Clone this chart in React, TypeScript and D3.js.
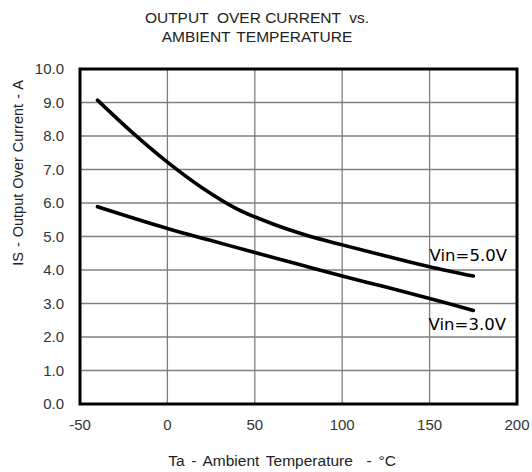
import * as d3 from 'd3';

// Temperature (°C) and output over current (A)
const tempVin5 = [-40, -20, 0, 20, 40, 60, 80, 100, 125, 150, 175];
const currentVin5 = [9.07, 8.1, 7.22, 6.45, 5.82, 5.38, 5.03, 4.75, 4.42, 4.1, 3.82];

const tempVin3 = [-40, 0, 25, 50, 75, 100, 125, 150, 175];
const currentVin3 = [5.89, 5.24, 4.88, 4.52, 4.17, 3.82, 3.49, 3.15, 2.79];

const xTicks = [-50, 0, 50, 100, 150, 200];
const yTicks = [0, 1, 2, 3, 4, 5, 6, 7, 8, 9, 10];

const seriesLabels = ['Vin=5.0V', 'Vin=3.0V'];

const width = 532;
const height = 472;
const margin = { top: 69, right: 15, bottom: 68, left: 80 };

export default function App() {
  const innerWidth = width - margin.left - margin.right;
  const innerHeight = height - margin.top - margin.bottom;

  const x = d3.scaleLinear().domain([-50, 200]).range([0, innerWidth]);
  const y = d3.scaleLinear().domain([0, 10]).range([innerHeight, 0]);

  const line = d3
    .line<[number, number]>()
    .x((d) => x(d[0]))
    .y((d) => y(d[1]))
    .curve(d3.curveCatmullRom);

  const vin5 = tempVin5.map((t, i) => [t, currentVin5[i]] as [number, number]);
  const vin3 = tempVin3.map((t, i) => [t, currentVin3[i]] as [number, number]);

  const font = '"Liberation Sans", Arial, sans-serif';

  return (
    <svg
      width={width}
      height={height}
      style={{ position: 'absolute', left: 0, top: 0, background: '#fff' }}
    >
      {/* Title */}
      <text x={257} y={23} textAnchor="middle" fontFamily={font} fontSize={15.5} fill="#222" style={{ whiteSpace: 'pre' }}>
        {'OUTPUT  OVER CURRENT  vs.'}
      </text>
      <text x={257} y={42} textAnchor="middle" fontFamily={font} fontSize={15.5} fill="#222" wordSpacing={2}>
        AMBIENT TEMPERATURE
      </text>

      <g transform={`translate(${margin.left},${margin.top})`}>
        {/* Grid */}
        {yTicks.map((t) => (
          <line key={'gy' + t} x1={0} x2={innerWidth} y1={y(t)} y2={y(t)} stroke="#7f7f7f" strokeWidth={1.3} />
        ))}
        {xTicks.map((t) => (
          <line key={'gx' + t} x1={x(t)} x2={x(t)} y1={0} y2={innerHeight} stroke="#7f7f7f" strokeWidth={1.3} />
        ))}

        {/* Curves */}
        <path d={line(vin5) ?? ''} fill="none" stroke="#000" strokeWidth={3.6} strokeLinecap="round" />
        <path d={line(vin3) ?? ''} fill="none" stroke="#000" strokeWidth={3.6} strokeLinecap="round" />

        {/* Frame */}
        <rect x={0} y={0} width={innerWidth} height={innerHeight} fill="none" stroke="#000" strokeWidth={3} />

        {/* Tick labels */}
        {yTicks.map((t) => (
          <text key={'ty' + t} x={-16} y={y(t) + 5} textAnchor="end" fontFamily={font} fontSize={15} fill="#333">
            {t.toFixed(1)}
          </text>
        ))}
        {xTicks.map((t) => (
          <text key={'tx' + t} x={x(t)} y={innerHeight + 26} textAnchor="middle" fontFamily={font} fontSize={15} fill="#333">
            {t}
          </text>
        ))}

        {/* Series labels */}
        <text x={x(150)} y={y(currentVin5[9]) - 6} fontFamily='"DejaVu Sans", sans-serif' fontSize={16.5} fill="#000">
          {seriesLabels[0]}
        </text>
        <text x={x(150) - 1} y={y(3.18) + 33} fontFamily='"DejaVu Sans", sans-serif' fontSize={16.5} fill="#000">
          {seriesLabels[1]}
        </text>
      </g>

      {/* Axis titles */}
      <text x={282} y={466} textAnchor="middle" fontFamily={font} fontSize={15.5} fill="#222" wordSpacing={2.5} style={{ whiteSpace: 'pre' }}>
        {'Ta - Ambient Temperature  - °C'}
      </text>
      <text
        transform={`translate(23,${margin.top + 104}) rotate(-90)`}
        textAnchor="middle"
        fontFamily={font}
        fontSize={14.5}
        fill="#222"
        wordSpacing={1}
      >
        IS - Output Over Current - A
      </text>
    </svg>
  );
}
